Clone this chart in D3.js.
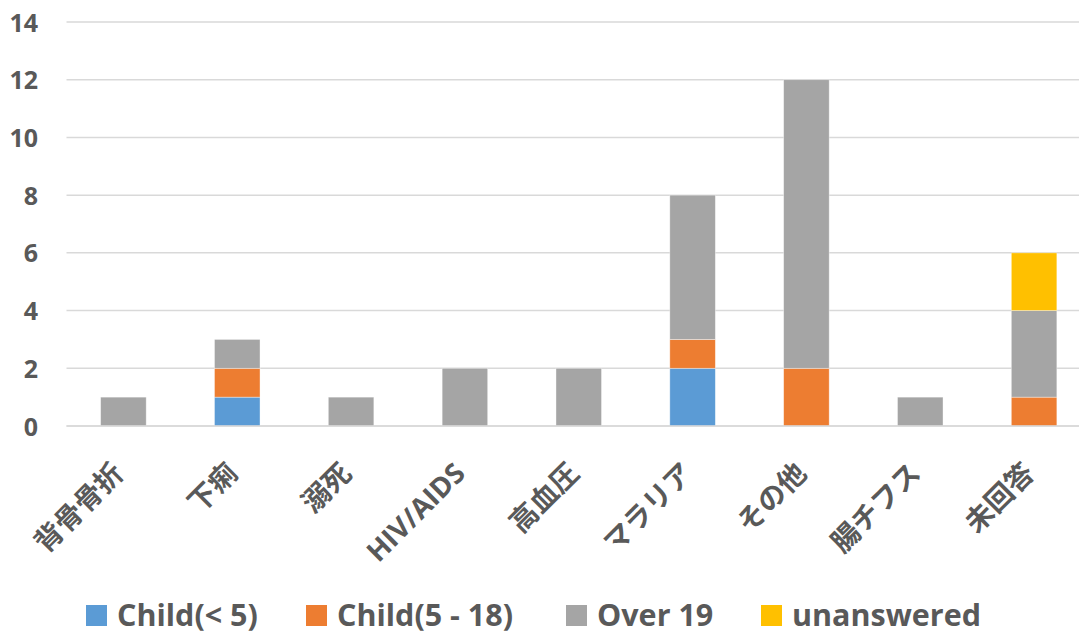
<!DOCTYPE html>
<html>
<head>
<meta charset="utf-8">
<script src="https://cdn.jsdelivr.net/npm/d3@7"></script>
<style>
  html, body { margin: 0; padding: 0; background: #fff; overflow: hidden; }
  svg { display: block; }
  text { font-family: "Open Sans", "Noto Sans CJK JP", sans-serif; font-weight: 700; fill: #595959; }
</style>
</head>
<body>
<svg id="chart" width="1079" height="635"></svg>
<script>
// Causes of death, counted by age group
const categories = ["背骨骨折", "下痢", "溺死", "HIV/AIDS", "高血圧", "マラリア", "その他", "腸チフス", "未回答"];
const seriesNames = ["Child(< 5)", "Child(5 - 18)", "Over 19", "unanswered"];
const childUnder5 = [0, 1, 0, 0, 0, 2, 0, 0, 0];
const child5to18  = [0, 1, 0, 0, 0, 1, 2, 0, 1];
const over19      = [1, 1, 1, 2, 2, 5, 10, 1, 3];
const unanswered  = [0, 0, 0, 0, 0, 0, 0, 0, 2];
const yTicks = [0, 2, 4, 6, 8, 10, 12, 14];
const colors = ["#5B9BD5", "#ED7D31", "#A5A5A5", "#FFC000"];

const rows = categories.map((c, i) => ({
  category: c,
  [seriesNames[0]]: childUnder5[i],
  [seriesNames[1]]: child5to18[i],
  [seriesNames[2]]: over19[i],
  [seriesNames[3]]: unanswered[i]
}));

const svg = d3.select("#chart");
const margin = { left: 66.5, right: -12, top: 22, bottom: 209 };
const W = 1079, H = 635;

const x = d3.scaleBand()
  .domain(categories)
  .range([margin.left, W - margin.right])
  .paddingInner(0.6)
  .paddingOuter(0.3);

const y = d3.scaleLinear()
  .domain([0, 14])
  .range([H - margin.bottom, margin.top]);

// horizontal gridlines
svg.append("g")
  .selectAll("line")
  .data(yTicks)
  .join("line")
  .attr("x1", margin.left)
  .attr("x2", W - margin.right)
  .attr("y1", d => y(d))
  .attr("y2", d => y(d))
  .attr("stroke", "#D9D9D9")
  .attr("stroke-width", 1.5);

// y-axis labels
const yAxis = d3.axisLeft(y).tickValues(yTicks).tickSize(0).tickPadding(0);
const yg = svg.append("g")
  .attr("transform", `translate(38,0)`)
  .call(yAxis);
yg.select(".domain").remove();
yg.selectAll("text")
  .attr("font-size", 25)
  .attr("font-family", "'Open Sans', sans-serif")
  .attr("font-weight", 700)
  .attr("fill", "#595959")
  .attr("dy", "0.36em");

// stacked bars
const stack = d3.stack().keys(seriesNames);
const layers = stack(rows);

svg.append("g")
  .selectAll("g")
  .data(layers)
  .join("g")
  .attr("fill", (d, i) => colors[i])
  .selectAll("rect")
  .data(d => d.filter(s => s[1] - s[0] > 0))
  .join("rect")
  .attr("x", d => x(d.data.category))
  .attr("width", x.bandwidth())
  .attr("y", d => y(d[1]))
  .attr("height", d => y(d[0]) - y(d[1]))
  .attr("stroke", "#ffffff")
  .attr("stroke-opacity", 0.5)
  .attr("stroke-width", 0.75);

// baseline
svg.append("line")
  .attr("x1", margin.left)
  .attr("x2", W - margin.right)
  .attr("y1", y(0))
  .attr("y2", y(0))
  .attr("stroke", "#D9D9D9")
  .attr("stroke-width", 1.5);

// rotated category labels
svg.append("g")
  .selectAll("text")
  .data(categories)
  .join("text")
  .attr("transform", d => `translate(${x(d) + x.bandwidth() / 2 + 2},475) rotate(-45)`)
  .attr("text-anchor", "end")
  .attr("font-size", 28)
  .attr("font-family", "'Noto Sans CJK JP', 'Open Sans', sans-serif")
  .text(d => d);

// legend
const legendX = [86, 306, 566, 761];
const legend = svg.append("g");
const items = legend.selectAll("g")
  .data(seriesNames)
  .join("g")
  .attr("transform", (d, i) => `translate(${legendX[i]},605)`);
items.append("rect")
  .attr("width", 21)
  .attr("height", 21)
  .attr("fill", (d, i) => colors[i]);
items.append("text")
  .attr("x", 31)
  .attr("y", 21)
  .attr("font-size", 30.5)
  .text(d => d);
</script>
</body>
</html>
